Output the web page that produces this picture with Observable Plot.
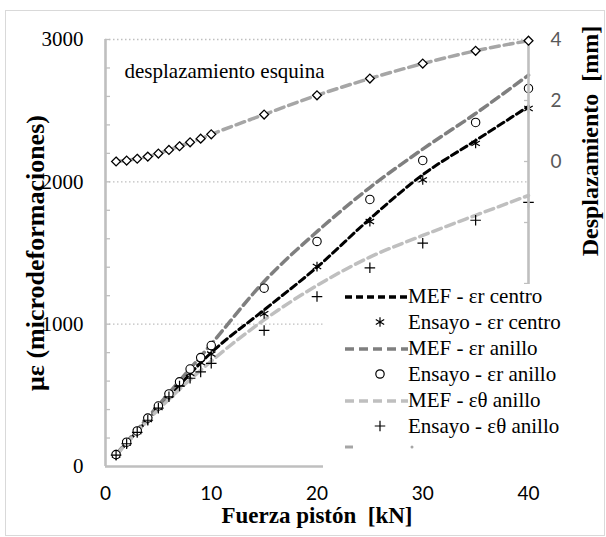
<!DOCTYPE html>
<html><head><meta charset="utf-8">
<script src="https://cdn.jsdelivr.net/npm/d3@7"></script>
<script src="https://cdn.jsdelivr.net/npm/@observablehq/plot@0.6"></script>
<style>
body{margin:0;background:#fff;}
#wrap{position:relative;width:606px;height:537px;overflow:hidden;background:#fff;}
#wrap svg{position:absolute;left:0;top:0;}
#frame{position:absolute;left:5px;top:10px;width:600px;height:526px;border:1px solid #d9d9d9;box-sizing:border-box;}
#legend{position:absolute;left:323px;top:284px;width:280px;height:187px;background:#fff;}
#legend svg{position:absolute;left:0;top:0;}
</style></head><body><div id="wrap"><div id="frame"></div></div>
<script>
// ---- data ----
const force = [1,2,3,4,5,6,7,8,9,10,15,20,25,30,35,40];
const ensayoCentro = [80,165,245,330,415,500,580,655,730,790,1073,1405,1721,2014,2270,2515];
const ensayoAnillo = [84,171,250,340,425,510,595,685,765,850,1253,1581,1876,2150,2417,2656];
const ensayoTheta  = [80,160,240,325,410,490,565,620,665,725,956,1194,1396,1569,1730,1855];
const mefForce  = [1,5,10,15,20,25,30,35,40];
const mefCentro = [80,410,800,1100,1400,1740,2050,2290,2530];
const mefAnillo = [85,430,860,1300,1650,1960,2230,2480,2750];
const mefTheta  = [80,400,740,1030,1272,1471,1623,1765,1904];
const desplEsquina = [0.0,0.03,0.09,0.16,0.26,0.38,0.50,0.63,0.75,0.89,1.54,2.17,2.72,3.21,3.63,3.96];
const xTicks = [0,10,20,30,40];
const yTicks = [0,1000,2000,3000];
const yMinor = d3.range(0,3001,200);
const y2Ticks = [0,2,4];
const y2Minor = d3.range(-10,5,2);
const legendItems = [
  {label:"MEF - εr centro", kind:"line", color:"#000"},
  {label:"Ensayo - εr centro", kind:"symbol", symbol:d3.symbolAsterisk},
  {label:"MEF - εr anillo", kind:"line", color:"#7f7f7f"},
  {label:"Ensayo - εr anillo", kind:"symbol", symbol:d3.symbolCircle},
  {label:"MEF - εθ anillo", kind:"line", color:"#bfbfbf"},
  {label:"Ensayo - εθ anillo", kind:"symbol", symbol:d3.symbolPlus}
];

const ens = force.map((f,i)=>({f, c:ensayoCentro[i], a:ensayoAnillo[i], t:ensayoTheta[i], d:desplEsquina[i]}));
const mef = mefForce.map((f,i)=>({f, c:mefCentro[i], a:mefAnillo[i], t:mefTheta[i]}));

const SERIF = "'Liberation Serif','Times New Roman',serif";
const SANS = "Lato,'Open Sans',sans-serif";
const common = {width:606, height:537, marginLeft:105, marginRight:78, marginTop:39, marginBottom:71};
const gridC = "#bfbfbf";

const main = Plot.plot({
  ...common,
  style:{background:"transparent", overflow:"visible"},
  x:{domain:[0,40], axis:null},
  y:{domain:[0,3000], axis:null},
  marks:[
    Plot.gridY(yTicks.filter(d=>d>0), {stroke:gridC, strokeOpacity:1, strokeWidth:1.3, strokeDasharray:"1.5,2.5"}),
    Plot.ruleY([0], {stroke:gridC, strokeWidth:2.6}),
    Plot.ruleX([0], {stroke:gridC, strokeWidth:2.6}),
    Plot.axisY(yMinor, {tickSize:-5, text:null, stroke:gridC, strokeWidth:1.3, label:null}),
    Plot.axisY(yTicks, {tickSize:0, tickPadding:22, tickFormat:d3.format("d"), fontFamily:SERIF, fontSize:21, fill:"#000", label:null}),
    Plot.axisX(xTicks, {tickSize:0, tickPadding:20, tickFormat:d3.format("d"), fontFamily:SANS, fontSize:19, fill:"#000", label:null}),
    Plot.line(mef, {x:"f", y:"c", stroke:"#000", strokeWidth:3, strokeDasharray:"7,4", curve:"monotone-x"}),
    Plot.line(mef, {x:"f", y:"a", stroke:"#7f7f7f", strokeWidth:3.5, strokeDasharray:"9,5", curve:"monotone-x"}),
    Plot.line(mef, {x:"f", y:"t", stroke:"#bfbfbf", strokeWidth:3.5, strokeDasharray:"9,5", curve:"monotone-x"}),
    Plot.dot(ens, {x:"f", y:"c", symbol:"asterisk", r:4.6, stroke:"#000", strokeWidth:1.2}),
    Plot.dot(ens, {x:"f", y:"a", symbol:"circle", r:4.2, fill:"#fff", stroke:"#000", strokeWidth:1.1}),
    Plot.dot(ens, {x:"f", y:"t", symbol:"plus", r:3.5, stroke:"#000", strokeWidth:1.2}),
    Plot.text(["με (microdeformaciones)"], {frameAnchor:"left", textAnchor:"middle", rotate:-90, dx:-70, fontFamily:SERIF, fontSize:26, fontWeight:"bold", fill:"#000"}),
    Plot.text(["Fuerza pistón  [kN]"], {frameAnchor:"bottom", dy:56, fontFamily:SERIF, fontSize:23, fontWeight:"bold", fill:"#000"})
  ]
});

const second = Plot.plot({
  ...common,
  style:{background:"transparent", overflow:"visible"},
  x:{domain:[0,40], axis:null},
  y:{domain:[-10,4], axis:null},
  marks:[
    Plot.ruleX([40], {stroke:gridC, strokeWidth:2.6}),
    Plot.axisY(y2Minor, {anchor:"right", tickSize:-5, text:null, stroke:gridC, strokeWidth:1.3, label:null}),
    Plot.axisY(y2Ticks, {anchor:"right", tickSize:0, tickPadding:22, fontFamily:SANS, fontSize:19, fill:"#595959", label:null}),
    Plot.line(ens, {x:"f", y:"d", stroke:"#a6a6a6", strokeWidth:3.5, strokeDasharray:"9,5", curve:"monotone-x"}),
    Plot.dot(ens, {x:"f", y:"d", symbol:"diamond2", r:4, fill:"#fff", stroke:"#000", strokeWidth:1.3}),
    Plot.text(["desplazamiento esquina"], {frameAnchor:"top-left", dx:19, dy:24, textAnchor:"start", fontFamily:SERIF, fontSize:21, fill:"#000"}),
    Plot.text(["Desplazamiento  [mm]"], {frameAnchor:"right", textAnchor:"middle", rotate:-90, dx:62, dy:-112, fontFamily:SERIF, fontSize:24, fontWeight:"bold", fill:"#000"})
  ]
});

const wrap = document.getElementById("wrap");
wrap.appendChild(main);
wrap.appendChild(second);

// legend box (covers lower right of plot like in the original)
const leg = document.createElement("div");
leg.id = "legend";
wrap.appendChild(leg);
const ls = d3.select(leg).append("svg").attr("width",280).attr("height",187);
legendItems.forEach((it,i)=>{
  const cy = 12 + i*26;
  if (it.kind === "line") {
    ls.append("line").attr("x1",22).attr("x2",85).attr("y1",cy+1).attr("y2",cy+1)
      .attr("stroke",it.color).attr("stroke-width",3.3).attr("stroke-dasharray", it.color==="#000"?"7,4":"9,5");
  } else {
    const size = it.symbol===d3.symbolPlus ? 38 : (it.symbol===d3.symbolCircle ? 55 : 66);
    ls.append("path").attr("d", d3.symbol(it.symbol, size)()).attr("transform",`translate(57,${cy})`)
      .attr("fill", it.symbol===d3.symbolCircle ? "#fff" : "none").attr("stroke","#000").attr("stroke-width",1.2);
  }
  ls.append("text").attr("x",85).attr("y",cy+7).attr("font-family",SERIF).attr("font-size",21).text(it.label);
});
// truncated last entry (corner displacement series)
ls.append("line").attr("x1",22).attr("x2",30).attr("y1",163).attr("y2",163).attr("stroke","#a6a6a6").attr("stroke-width",3);
ls.append("circle").attr("cx",89).attr("cy",163).attr("r",1.5).attr("fill","#a6a6a6");
</script></body></html>
